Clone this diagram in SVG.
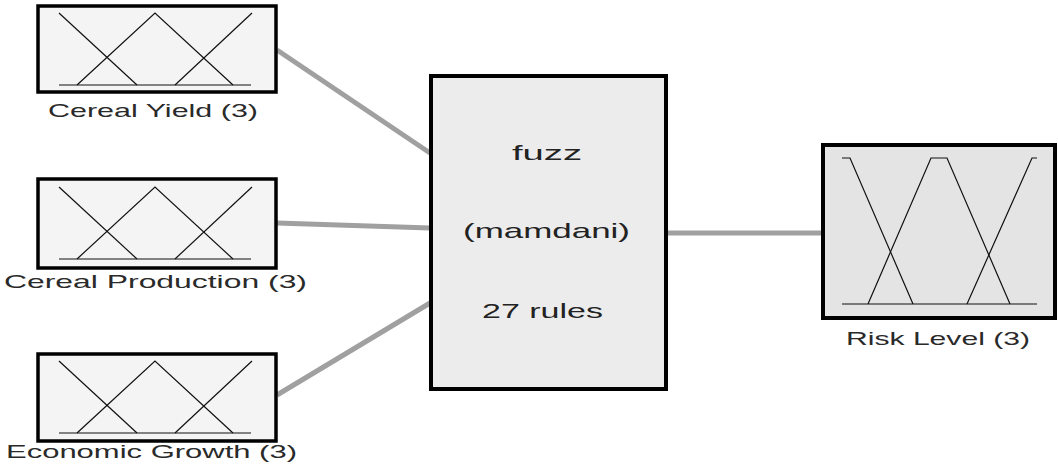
<svg xmlns="http://www.w3.org/2000/svg" xmlns:xlink="http://www.w3.org/1999/xlink" width="1058" height="473" viewBox="0 0 1058 473">
  <style>
    .inbox { fill: #f4f4f4; stroke: #000; stroke-width: 3.5; }
    .mid { fill: #ececec; stroke: #000; stroke-width: 4; }
    .outbox { fill: #e4e4e4; stroke: #000; stroke-width: 4; }
    .mf { fill: none; stroke: #111; stroke-width: 1.2; }
    .lbl { font-family: "Liberation Sans", Arial, sans-serif; font-size: 19px; fill: #2a2a2a; }
    .mtx { font-family: "Liberation Sans", Arial, sans-serif; font-size: 21px; fill: #222; }
    .conn { stroke: #a0a0a0; stroke-width: 5; fill: none; }
  </style>
  <defs>
    <g id="mfin">
      <line class="mf" x1="59" y1="72" x2="251" y2="72"/>
      <polyline class="mf" points="59,0 137,72"/>
      <polyline class="mf" points="77,72 155,0 233,72"/>
      <polyline class="mf" points="175,72 252,0"/>
    </g>
  </defs>
  <rect width="1058" height="473" fill="#ffffff"/>
  <g id="connectors">
    <line class="conn" x1="277" y1="50" x2="430" y2="153"/>
    <line class="conn" x1="277" y1="223" x2="430" y2="228"/>
    <line class="conn" x1="277" y1="395" x2="430" y2="303"/>
    <line class="conn" x1="667" y1="233" x2="822" y2="233"/>
  </g>
  <g id="cereal-yield">
    <rect class="inbox" x="38" y="6" width="238" height="86"/>
    <use xlink:href="#mfin" transform="translate(0,13)"/>
    <text class="lbl" x="48" y="117" textLength="210" lengthAdjust="spacingAndGlyphs">Cereal Yield (3)</text>
  </g>
  <g id="cereal-production">
    <rect class="inbox" x="38" y="179" width="238" height="89"/>
    <use xlink:href="#mfin" transform="translate(0,187)"/>
    <text class="lbl" x="4" y="288" textLength="303" lengthAdjust="spacingAndGlyphs">Cereal Production (3)</text>
  </g>
  <g id="economic-growth">
    <rect class="inbox" x="38" y="354" width="238" height="87"/>
    <use xlink:href="#mfin" transform="translate(0,361)"/>
    <text class="lbl" x="6" y="458" textLength="291" lengthAdjust="spacingAndGlyphs">Economic Growth (3)</text>
  </g>
  <g id="fuzz">
    <rect class="mid" x="431" y="76" width="235" height="313"/>
    <text class="mtx" x="512" y="160" textLength="70" lengthAdjust="spacingAndGlyphs">fuzz</text>
    <text class="mtx" x="463" y="238" textLength="167" lengthAdjust="spacingAndGlyphs">(mamdani)</text>
    <text class="mtx" x="482" y="318" textLength="121" lengthAdjust="spacingAndGlyphs">27 rules</text>
  </g>
  <g id="risk-level">
    <rect class="outbox" x="823" y="145" width="232" height="173"/>
    <line class="mf" x1="842" y1="304" x2="1037" y2="304"/>
    <polyline class="mf" points="842,158 850,158 913,304"/>
    <polyline class="mf" points="868,304 931,158 947,158 1010,304"/>
    <polyline class="mf" points="967,304 1032,158 1037,158"/>
    <text class="lbl" x="846" y="345" textLength="184" lengthAdjust="spacingAndGlyphs">Risk Level (3)</text>
  </g>
</svg>
